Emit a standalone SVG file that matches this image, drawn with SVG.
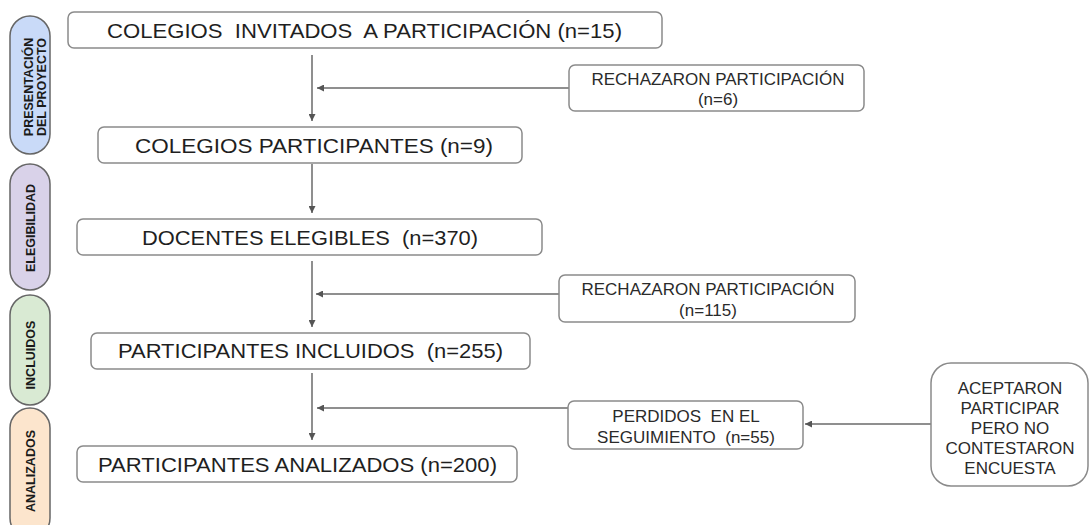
<svg xmlns="http://www.w3.org/2000/svg" width="1090" height="525" viewBox="0 0 1090 525">
<style>
.box{fill:#fff;stroke:#8a8a8a;stroke-width:1.5}
.pill{stroke:#666;stroke-width:1.5}
.main{font-family:"Liberation Sans",Arial,sans-serif;font-size:21px;fill:#1f1f1f;text-anchor:middle}
.small{font-family:"Liberation Sans",Arial,sans-serif;font-size:17px;fill:#2a2a2a;text-anchor:middle}
.side{font-family:"Liberation Sans",Arial,sans-serif;font-size:12.5px;font-weight:bold;fill:#1a1a1a;text-anchor:middle}
.conn{fill:none;stroke:#6a6a6a;stroke-width:1.5}
</style>
<defs>
<marker id="arr" viewBox="0 0 10 10" refX="10" refY="5" markerWidth="7" markerHeight="7" markerUnits="userSpaceOnUse" orient="auto">
<path d="M0,0 L10,5 L0,10 z" fill="#555"/>
</marker>
</defs>
<rect width="1090" height="525" fill="#fff"/>
<g id="phase-presentacion">
<rect class="pill" x="10" y="16" width="40" height="138" rx="20" fill="#c9daf8"/>
<text class="side" transform="translate(33,87) rotate(-90)">PRESENTACIÓN</text>
<text class="side" transform="translate(46,87) rotate(-90)">DEL PROYECTO</text>
</g>
<g id="phase-elegibilidad">
<rect class="pill" x="10" y="164" width="40" height="126" rx="20" fill="#d9d2e9"/>
<text class="side" transform="translate(35,228) rotate(-90)">ELEGIBILIDAD</text>
</g>
<g id="phase-incluidos">
<rect class="pill" x="10" y="295" width="40" height="110" rx="20" fill="#d9ead3"/>
<text class="side" transform="translate(35,355) rotate(-90)">INCLUIDOS</text>
</g>
<g id="phase-analizados">
<rect class="pill" x="10" y="408" width="40" height="130" rx="20" fill="#fce5cd"/>
<text class="side" transform="translate(35,471) rotate(-90)">ANALIZADOS</text>
</g>
<g id="connectors">
<line class="conn" x1="312" y1="55" x2="312" y2="121" marker-end="url(#arr)"/>
<line class="conn" x1="569" y1="88" x2="317" y2="88" marker-end="url(#arr)"/>
<line class="conn" x1="312" y1="164" x2="312" y2="213" marker-end="url(#arr)"/>
<line class="conn" x1="312" y1="261" x2="312" y2="327" marker-end="url(#arr)"/>
<line class="conn" x1="559" y1="294" x2="316" y2="294" marker-end="url(#arr)"/>
<line class="conn" x1="312" y1="373" x2="312" y2="440" marker-end="url(#arr)"/>
<line class="conn" x1="568" y1="408" x2="317" y2="408" marker-end="url(#arr)"/>
<line class="conn" x1="931" y1="424" x2="805" y2="424" marker-end="url(#arr)"/>
</g>
<g id="n-invitados">
<rect class="box" x="68" y="12" width="594" height="36" rx="6"/>
<text class="main" x="364.5" y="38" textLength="515" lengthAdjust="spacingAndGlyphs" xml:space="preserve">COLEGIOS  INVITADOS  A PARTICIPACIÓN (n=15)</text>
</g>
<g id="n-rechazo1">
<rect class="box" x="569" y="65" width="295" height="46" rx="6"/>
<text class="small" x="718" y="85" textLength="253" lengthAdjust="spacingAndGlyphs">RECHAZARON PARTICIPACIÓN</text>
<text class="small" x="718" y="105">(n=6)</text>
</g>
<g id="n-participantes">
<rect class="box" x="98" y="127" width="424" height="36" rx="6"/>
<text class="main" x="314" y="153" textLength="358" lengthAdjust="spacingAndGlyphs">COLEGIOS PARTICIPANTES (n=9)</text>
</g>
<g id="n-elegibles">
<rect class="box" x="77" y="219" width="465" height="36" rx="6"/>
<text class="main" x="310" y="245" textLength="336" lengthAdjust="spacingAndGlyphs" xml:space="preserve">DOCENTES ELEGIBLES  (n=370)</text>
</g>
<g id="n-rechazo2">
<rect class="box" x="559" y="275" width="296" height="47" rx="6"/>
<text class="small" x="708" y="295" textLength="253" lengthAdjust="spacingAndGlyphs">RECHAZARON PARTICIPACIÓN</text>
<text class="small" x="708" y="316">(n=115)</text>
</g>
<g id="n-incluidos">
<rect class="box" x="91" y="333" width="439" height="36" rx="6"/>
<text class="main" x="310.5" y="358" textLength="385" lengthAdjust="spacingAndGlyphs" xml:space="preserve">PARTICIPANTES INCLUIDOS  (n=255)</text>
</g>
<g id="n-perdidos">
<rect class="box" x="568" y="401" width="235" height="48" rx="6"/>
<text class="small" x="686" y="422" xml:space="preserve">PERDIDOS  EN EL</text>
<text class="small" x="686" y="443" xml:space="preserve">SEGUIMIENTO  (n=55)</text>
</g>
<g id="n-aceptaron">
<rect class="box" x="931" y="363" width="157" height="123" rx="20"/>
<text class="small" x="1010" y="394">ACEPTARON</text>
<text class="small" x="1010" y="414">PARTICIPAR</text>
<text class="small" x="1010" y="434">PERO NO</text>
<text class="small" x="1010" y="454">CONTESTARON</text>
<text class="small" x="1010" y="474">ENCUESTA</text>
</g>
<g id="n-analizados">
<rect class="box" x="77" y="446" width="440" height="36" rx="6"/>
<text class="main" x="297.5" y="472" textLength="399" lengthAdjust="spacingAndGlyphs">PARTICIPANTES ANALIZADOS (n=200)</text>
</g>
</svg>
